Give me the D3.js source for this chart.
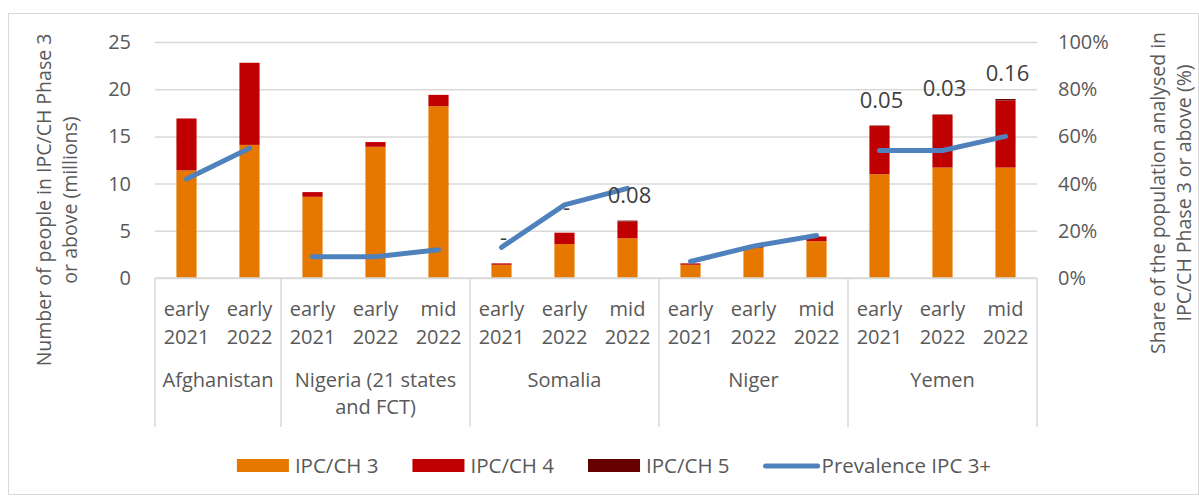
<!DOCTYPE html>
<html>
<head>
<meta charset="utf-8">
<title>IPC/CH phases</title>
<style>
  body { margin: 0; background: #fff; }
  text { font-family: "Open Sans", sans-serif; fill: #595959; }
</style>
</head>
<body>
<script src="https://cdn.jsdelivr.net/npm/d3@7"></script>
<script>
// one entry per bar
var country = ["Afghanistan", "Afghanistan",
  "Nigeria (21 states and FCT)", "Nigeria (21 states and FCT)", "Nigeria (21 states and FCT)",
  "Somalia", "Somalia", "Somalia",
  "Niger", "Niger", "Niger",
  "Yemen", "Yemen", "Yemen"];
var period = ["early 2021", "early 2022",
  "early 2021", "early 2022", "mid 2022",
  "early 2021", "early 2022", "mid 2022",
  "early 2021", "early 2022", "mid 2022",
  "early 2021", "early 2022", "mid 2022"];
var ipc3 = [11.4, 14.1, 8.6, 13.9, 18.2, 1.4, 3.6, 4.2, 1.4, 3.2, 3.9, 11.0, 11.7, 11.7];
var ipc4 = [5.5, 8.7, 0.5, 0.5, 1.2, 0.15, 1.2, 1.8, 0.15, 0.1, 0.5, 5.1, 5.6, 7.1];
var ipc5 = [0, 0, 0, 0, 0, 0, 0, 0.08, 0, 0, 0, 0.05, 0.03, 0.16];
var ipc5Label = [null, null, null, null, null, "-", "-", "0.08", null, null, null, "0.05", "0.03", "0.16"];
var prevalence = [0.42, 0.55, 0.09, 0.09, 0.12, 0.13, 0.31, 0.38, 0.07, 0.135, 0.18, 0.54, 0.54, 0.60];

var leftTicks = [0, 5, 10, 15, 20, 25];
var rightTicks = [0, 0.2, 0.4, 0.6, 0.8, 1];
var seriesNames = ["IPC/CH 3", "IPC/CH 4", "IPC/CH 5"];
var colors = ["#e67800", "#c00000", "#640000"];
var lineColor = "#4f81bd";

var W = 1199, H = 498;
var plot = { left: 155, right: 1037, top: 42, bottom: 278 };
var fs = "20px";

var svg = d3.select("body").append("svg")
  .attr("width", W)
  .attr("height", H);

// chart frame
svg.append("rect")
  .attr("x", 8.5).attr("y", 13.5)
  .attr("width", 1190).attr("height", 481)
  .style("fill", "none")
  .style("stroke", "#d9d9d9");

var idx = d3.range(country.length);
var x = d3.scaleBand()
  .domain(idx)
  .range([plot.left, plot.right])
  .paddingInner(0.68)
  .paddingOuter(0.34);
var step = x.step();
function cx(i) { return x(i) + x.bandwidth() / 2; }

var y = d3.scaleLinear().domain([0, 25]).range([plot.bottom, plot.top]);
var y2 = d3.scaleLinear().domain([0, 1]).range([plot.bottom, plot.top]);

// gridlines + left axis
var gy = svg.append("g")
  .attr("transform", "translate(" + plot.left + ",0)")
  .call(d3.axisLeft(y).tickValues(leftTicks).tickSize(-(plot.right - plot.left)).tickPadding(24));
gy.select(".domain").remove();
gy.selectAll(".tick line").style("stroke", "#d9d9d9").style("stroke-width", 1.5);
gy.selectAll(".tick text").style("font-size", fs).style("font-family", "Open Sans").attr("fill", "#595959");

// right axis labels
var gy2 = svg.append("g")
  .attr("transform", "translate(" + plot.right + ",0)")
  .call(d3.axisRight(y2).tickValues(rightTicks).tickSize(0).tickPadding(21).tickFormat(d3.format(".0%")));
gy2.select(".domain").remove();
gy2.selectAll(".tick text").style("font-size", fs).style("font-family", "Open Sans").attr("fill", "#595959");

// stacked bars
var stacks = [ipc3, ipc4, ipc5];
var bars = svg.append("g");
idx.forEach(function(i) {
  var base = 0;
  stacks.forEach(function(s, k) {
    var v = s[i];
    if (v > 0) {
      bars.append("rect")
        .attr("x", x(i))
        .attr("width", x.bandwidth())
        .attr("y", y(base + v))
        .attr("height", y(base) - y(base + v))
        .style("fill", colors[k]);
    }
    base += v;
  });
});

// category axis: baseline + group dividers
var groups = [];
idx.forEach(function(i) {
  if (!groups.length || groups[groups.length - 1].name !== country[i]) {
    groups.push({ name: country[i], first: i, last: i });
  } else {
    groups[groups.length - 1].last = i;
  }
});
var axisG = svg.append("g");
axisG.append("line")
  .attr("x1", plot.left).attr("x2", plot.right)
  .attr("y1", plot.bottom).attr("y2", plot.bottom)
  .style("stroke", "#d9d9d9").style("stroke-width", 1.5);
var dividers = groups.map(function(g) { return cx(g.first) - step / 2; });
dividers.push(plot.right);
dividers.forEach(function(d) {
  axisG.append("line")
    .attr("x1", d).attr("x2", d)
    .attr("y1", plot.bottom).attr("y2", 427)
    .style("stroke", "#d9d9d9").style("stroke-width", 1.5);
});

// period labels (two lines)
idx.forEach(function(i) {
  var parts = period[i].split(" ");
  var t = axisG.append("text")
    .attr("x", cx(i))
    .attr("text-anchor", "middle")
    .style("font-size", fs);
  t.append("tspan").attr("x", cx(i)).attr("y", 316).text(parts[0]);
  t.append("tspan").attr("x", cx(i)).attr("y", 344).text(parts[1]);
});

// country labels
var countryLines = {
  "Nigeria (21 states and FCT)": ["Nigeria (21 states", "and FCT)"]
};
groups.forEach(function(g) {
  var mid = (cx(g.first) + cx(g.last)) / 2;
  var lines = countryLines[g.name] || [g.name];
  var t = axisG.append("text").attr("text-anchor", "middle").style("font-size", fs);
  lines.forEach(function(l, j) {
    t.append("tspan").attr("x", mid).attr("y", 387 + j * 27).text(l);
  });
});

// prevalence line, one segment per country
var line = d3.line()
  .x(function(i) { return cx(i); })
  .y(function(i) { return y2(prevalence[i]); });
groups.forEach(function(g) {
  svg.append("path")
    .attr("d", line(d3.range(g.first, g.last + 1)))
    .style("fill", "none")
    .style("stroke", lineColor)
    .style("stroke-width", 5)
    .style("stroke-linecap", "round")
    .style("stroke-linejoin", "round");
});

// IPC 5 data labels
idx.forEach(function(i) {
  if (ipc5Label[i] === null) return;
  var total = ipc3[i] + ipc4[i] + ipc5[i];
  svg.append("text")
    .attr("x", cx(i) + 2)
    .attr("y", y(total) - 18)
    .attr("text-anchor", "middle")
    .style("font-size", "22px")
    .style("fill", "#404040")
    .text(ipc5Label[i]);
});

// axis titles
function vTitle(xs, cy, lines) {
  var t = svg.append("text")
    .attr("transform", "translate(0," + cy + ") rotate(-90)")
    .attr("text-anchor", "middle")
    .style("font-size", "19.5px");
  lines.forEach(function(l, j) {
    t.append("tspan").attr("x", 0).attr("y", xs[j]).text(l);
  });
}
vTitle([51, 77], 200, ["Number of people in IPC/CH Phase 3", "or above (millions)"]);
vTitle([1165, 1191], 193, ["Share of the population analysed in", "IPC/CH Phase 3 or above (%)"]);

// legend
var legend = svg.append("g");
var items = seriesNames.map(function(n, k) { return { name: n, color: colors[k], type: "rect" }; });
items.push({ name: "Prevalence IPC 3+", color: lineColor, type: "line" });
var lx = 0;
items.forEach(function(it) {
  var g = legend.append("g").attr("transform", "translate(" + lx + ",0)");
  if (it.type === "rect") {
    g.append("rect").attr("x", 0).attr("y", 459).attr("width", 52).attr("height", 13).style("fill", it.color);
  } else {
    g.append("line").attr("x1", 2).attr("x2", 54).attr("y1", 466).attr("y2", 466)
      .style("stroke", it.color).style("stroke-width", 5).style("stroke-linecap", "round");
  }
  var t = g.append("text").attr("x", 58).attr("y", 473).style("font-size", "20.5px").text(it.name);
  lx += 58 + t.node().getComputedTextLength() + 34;
});
var legendWidth = lx - 34;
legend.attr("transform", "translate(" + (614 - legendWidth / 2) + ",0)");
</script>
</body>
</html>
